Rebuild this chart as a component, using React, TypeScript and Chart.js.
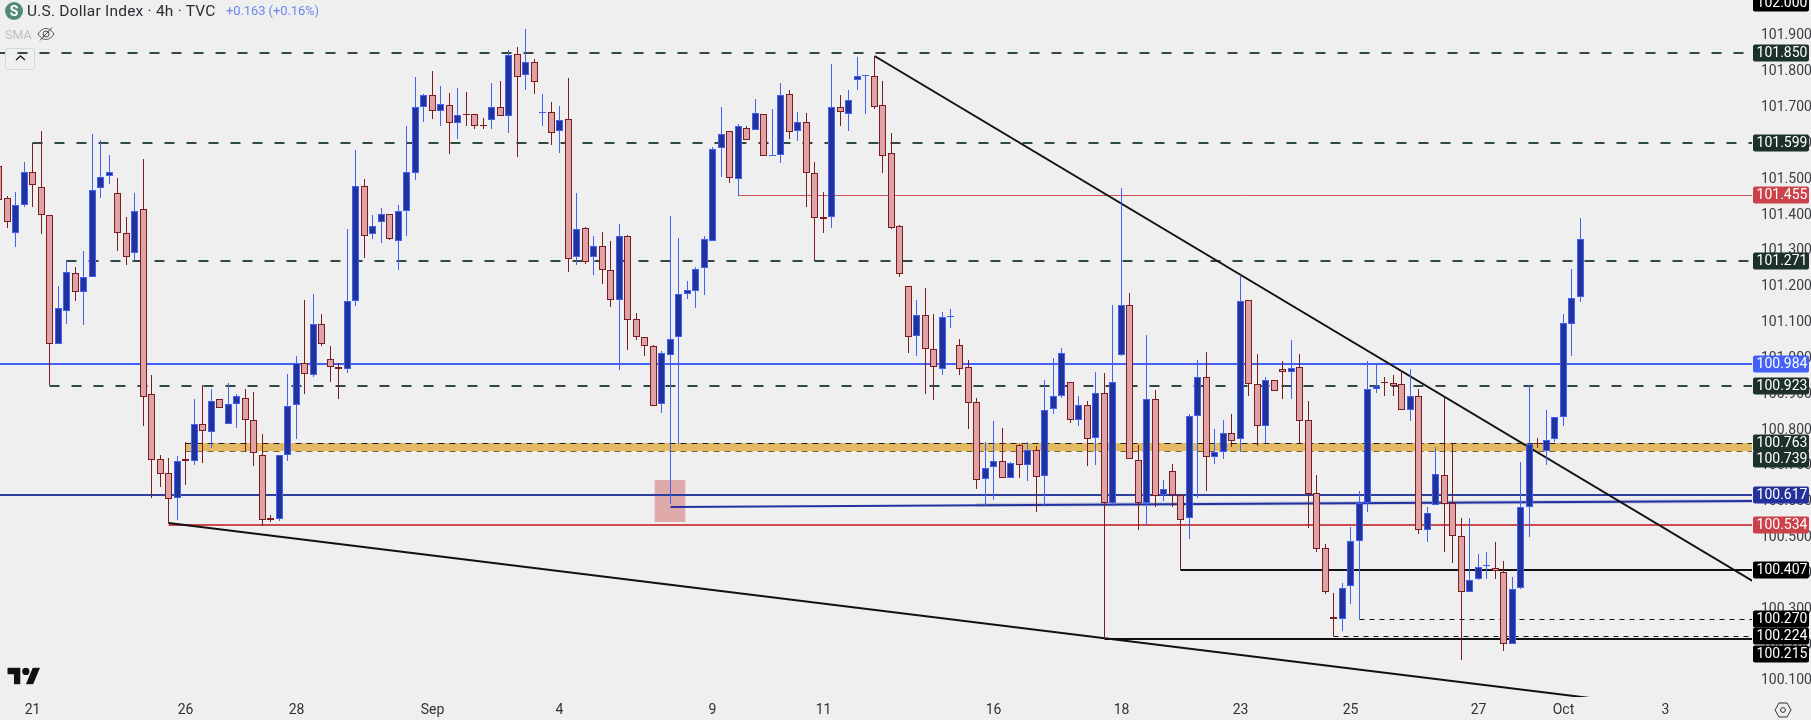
import React, { useEffect, useRef } from "react";
import { Chart, registerables } from "chart.js";

Chart.register(...registerables);

// ---- candle series (4h bars, oldest first) ----
const opens = [
  101.537,101.445,101.350,101.428,101.520,101.478,101.400,101.040,101.132,101.238,
  101.185,101.227,101.473,101.509,101.461,101.350,101.294,101.417,100.898,100.719,
  100.680,100.610,100.719,100.711,100.817,100.794,100.886,100.817,100.872,100.889,
  100.828,100.730,100.554,100.551,100.730,100.870,100.987,100.953,101.096,100.998,
  100.976,100.970,101.160,101.481,101.347,101.380,101.403,101.327,101.411,101.517,
  101.699,101.735,101.690,101.707,101.657,101.682,101.682,101.651,101.665,101.699,
  101.676,101.849,101.791,101.827,101.685,101.687,101.634,101.668,101.283,101.364,
  101.283,101.313,101.246,101.163,101.339,101.110,101.059,101.034,100.872,101.009,
  101.059,101.179,101.188,101.252,101.327,101.587,101.632,101.500,101.643,101.637,
  101.682,101.565,101.567,101.738,101.633,101.658,101.515,101.393,101.393,101.699,
  101.682,101.776,101.786,101.786,101.705,101.571,101.367,101.200,101.061,101.120,
  101.025,100.970,101.114,101.035,100.974,100.876,100.662,100.695,100.711,100.664,
  100.756,100.700,100.743,100.670,100.857,100.893,100.933,100.828,100.869,100.776,
  100.901,100.594,101.009,101.147,100.714,100.594,100.885,100.618,100.684,100.618,
  100.554,100.837,100.946,100.723,100.737,100.790,100.773,101.161,100.927,100.810,
  100.938,100.968,100.960,100.976,100.826,100.622,100.470,100.277,100.270,100.363,
  100.488,100.594,100.913,100.932,100.930,100.927,100.854,100.893,100.519,100.589,
  100.673,100.594,100.502,100.348,100.383,100.419,100.415,100.402,100.203,100.357,
  100.583,100.761,100.740,100.773,100.834,101.094,101.169,
];
const closes = [
  101.442,101.380,101.428,101.520,101.484,101.400,101.040,101.138,101.241,101.185,
  101.227,101.470,101.506,101.520,101.350,101.283,101.411,100.892,100.716,100.677,
  100.605,100.713,100.711,100.817,100.797,100.881,100.861,100.872,100.895,100.828,
  100.736,100.549,100.549,100.730,100.867,100.987,100.956,101.096,101.040,100.976,
  100.970,101.160,101.481,101.341,101.369,101.403,101.333,101.411,101.520,101.699,
  101.735,101.690,101.710,101.657,101.679,101.679,101.646,101.646,101.699,101.676,
  101.846,101.785,101.827,101.771,101.687,101.629,101.665,101.277,101.361,101.269,
  101.313,101.246,101.163,101.339,101.107,101.059,101.032,100.867,101.015,101.054,
  101.179,101.191,101.249,101.333,101.584,101.626,101.503,101.646,101.609,101.685,
  101.565,101.567,101.735,101.631,101.658,101.515,101.390,101.389,101.699,101.686,
  101.719,101.786,101.790,101.699,101.565,101.364,101.233,101.058,101.120,101.025,
  100.974,101.114,101.115,100.968,100.873,100.659,100.693,100.711,100.664,100.707,
  100.701,100.743,100.667,100.854,100.893,101.013,100.826,100.869,100.775,100.901,
  100.594,100.932,101.147,100.717,100.594,100.885,100.615,100.634,100.618,100.549,
  100.837,100.946,100.724,100.738,100.790,100.768,101.158,100.927,100.809,100.938,
  100.907,100.960,100.972,100.824,100.619,100.466,100.348,100.270,100.357,100.488,
  100.594,100.913,100.922,100.931,100.921,100.854,100.893,100.519,100.567,100.675,
  100.592,100.502,100.348,100.379,100.416,100.420,100.405,100.203,100.355,100.583,
  100.760,100.759,100.770,100.835,101.097,101.167,101.331,
];
const highs = [
  101.542,101.453,101.464,101.548,101.601,101.634,101.400,101.202,101.272,101.255,
  101.299,101.626,101.609,101.567,101.503,101.392,101.459,101.556,100.951,100.730,
  100.722,100.727,100.764,100.886,100.925,100.912,100.886,100.931,100.900,100.912,
  100.906,100.789,100.563,100.730,100.956,101.006,101.163,101.179,101.124,101.034,
  100.987,101.361,101.579,101.500,101.400,101.419,101.403,101.428,101.648,101.785,
  101.738,101.802,101.760,101.740,101.752,101.743,101.682,101.671,101.768,101.774,
  101.860,101.869,101.919,101.833,101.738,101.713,101.704,101.780,101.461,101.366,
  101.341,101.352,101.325,101.375,101.344,101.126,101.059,101.037,101.018,101.397,
  101.336,101.216,101.255,101.341,101.590,101.699,101.632,101.654,101.646,101.724,
  101.682,101.696,101.768,101.747,101.686,101.683,101.547,101.463,101.821,101.734,
  101.747,101.841,101.790,101.842,101.772,101.628,101.371,101.200,101.161,101.196,
  101.124,101.128,101.136,101.053,100.995,100.887,100.766,100.824,100.805,100.710,
  100.760,100.766,100.754,100.939,100.999,101.028,100.933,100.893,100.881,100.962,
  100.959,101.147,101.475,101.182,100.756,101.063,100.910,100.659,100.704,100.618,
  100.843,100.994,101.017,100.803,100.827,100.843,101.231,101.161,101.012,100.948,
  100.938,100.991,101.049,101.012,100.881,100.673,100.480,100.343,100.372,100.528,
  100.629,100.991,100.986,100.948,100.953,100.965,100.968,100.914,100.584,100.752,
  100.887,100.763,100.552,100.552,100.453,100.459,100.485,100.432,100.389,100.710,
  100.925,100.777,100.855,100.835,101.124,101.249,101.391,
];
const lows = [
  101.428,101.364,101.311,101.422,101.422,101.347,100.925,101.040,101.096,101.160,
  101.093,101.227,101.447,101.486,101.299,101.260,101.274,100.811,100.610,100.641,
  100.540,100.549,100.646,100.702,100.708,100.750,100.861,100.817,100.805,100.738,
  100.699,100.532,100.543,100.546,100.711,100.775,100.898,100.948,101.032,100.934,
  100.886,100.959,101.146,101.280,101.333,101.322,101.330,101.246,101.339,101.498,
  101.659,101.668,101.648,101.570,101.612,101.648,101.640,101.640,101.640,101.676,
  101.629,101.562,101.749,101.738,101.648,101.593,101.573,101.241,101.260,101.263,
  101.232,101.205,101.143,100.965,101.023,101.051,101.006,100.867,100.845,100.591,
  100.761,101.165,101.140,101.177,101.327,101.506,101.489,101.453,101.609,101.637,
  101.565,101.565,101.545,101.610,101.605,101.422,101.271,101.348,101.364,101.648,
  101.633,101.749,101.680,101.694,101.515,101.359,101.227,101.014,101.006,100.898,
  100.884,100.953,101.084,100.953,100.803,100.633,100.586,100.604,100.664,100.664,
  100.664,100.656,100.569,100.586,100.844,100.887,100.818,100.809,100.699,100.702,
  100.216,100.586,101.006,100.717,100.519,100.534,100.583,100.601,100.583,100.409,
  100.494,100.610,100.630,100.703,100.717,100.751,100.737,100.893,100.754,100.763,
  100.907,100.886,100.885,100.762,100.526,100.459,100.342,100.223,100.239,100.312,
  100.270,100.569,100.901,100.895,100.895,100.854,100.824,100.508,100.486,100.589,
  100.459,100.428,100.158,100.348,100.379,100.382,100.384,100.181,100.201,100.355,
  100.500,100.748,100.700,100.766,100.810,101.006,101.157,
];

// ---- axes ----
const X_MIN = 0.118;
const X_MAX = 206.235;
const Y_MAX = 101.999;
const Y_MIN = 100.0537;
const priceTicks = [101.9,101.8,101.7,101.6,101.5,101.4,101.3,101.2,101.1,101.0,100.9,100.8,100.7,100.6,100.5,100.4,100.3,100.2,100.1];
const timeTickBars = [4,22,35,51,66,84,97,117,132,146,159,174,184,196];
const timeTickLabels = ["21","26","28","Sep","4","9","11","16","18","23","25","27","Oct","3"];

// ---- horizontal levels: [first bar, price] ----
const level101850 = [-0.47, 101.85];
const level101599 = [4, 101.599];
const level101271 = [8, 101.271];
const level100923 = [6, 100.923];
const level100984 = [-0.47, 100.984];
const level100617 = [-0.47, 100.617];
const level100534 = [20, 100.534];
const level101455 = [87, 101.455];
const level100407 = [139, 100.407];
const level100215 = [130, 100.215];
const level100270 = [160, 100.27];
const level100224 = [157, 100.224];
const level100763 = [22, 100.763];
const level100739 = [22, 100.739];

// ---- sloped lines: [bar, price, bar, price] ----
const upperTrend = [103, 101.842, 206.235, 100.378];
const lowerTrend = [20, 100.54, 206.235, 99.996];
const blueTrend = [79, 100.585, 206.235, 100.6];
const blueHalo = [115, 100.589, 206.235, 100.6];
// highlighted box: [first bar, last bar, top price, bottom price]
const pinkBox = [77.06, 80.82, 100.66, 100.543];

// ---- price tags on the axis ----
const tagValues = [102.0,101.85,101.599,101.455,101.271,100.984,100.923,100.763,100.739,100.617,100.534,100.407,100.27,100.224,100.215];
const tagColors = ["#000000","#1c312a","#1c312a","#cc4249","#1c312a","#4361f6","#1c312a","#1c312a","#1c312a","#24319a","#cc4249","#000000","#000000","#000000","#000000"];
const tagShifts = [3,0,0,0,0,0,0,0,8,0,0,0,0,0,15];

const FONT = '"Liberation Sans Narrow", Roboto, sans-serif';
const UP_BODY = "#21329b";
const UP_LINE = "#4262f5";
const DOWN_BODY = "#e0a3a5";
const DOWN_LINE = "#7a1c22";
const GREEN = "#2f4a40";

function hline(l: number[], color: string, width: number, dash: number[] = [], thin = false) {
  return {
    type: "line" as const,
    data: [{ x: l[0], y: l[1] }, { x: X_MAX, y: l[1] }],
    borderColor: color,
    borderWidth: width,
    borderDash: dash,
    pointRadius: 0,
    tension: 0,
    order: 5,
    thin,
  };
}
function sloped(l: number[], color: string, width = 2, order = 4) {
  return {
    type: "line" as const,
    data: [{ x: l[0], y: l[1] }, { x: l[2], y: l[3] }],
    borderColor: color,
    borderWidth: width,
    pointRadius: 0,
    tension: 0,
    order,
  };
}

const thinOffset = {
  id: "thinOffset",
  beforeDatasetDraw(chart: any, args: any) {
    if (chart.data.datasets[args.index].thin) {
      chart.ctx.save();
      chart.ctx.translate(0, 0.5);
    }
  },
  afterDatasetDraw(chart: any, args: any) {
    if (chart.data.datasets[args.index].thin) chart.ctx.restore();
  },
};

const priceTags = {
  id: "priceTags",
  afterDraw(chart: any) {
    const { ctx, scales } = chart;
    ctx.save();
    ctx.font = "14px " + FONT;
    ctx.textBaseline = "middle";
    ctx.textAlign = "center";
    tagValues.forEach((v, i) => {
      const y = scales.y.getPixelForValue(v) + tagShifts[i];
      ctx.fillStyle = tagColors[i];
      ctx.beginPath();
      ctx.roundRect(1753, y - 8.5, 56, 17, 2);
      ctx.fill();
      ctx.fillStyle = "#ffffff";
      ctx.fillText(v.toFixed(3), 1782, y + 0.5);
    });
    ctx.restore();
  },
};

export default function App() {
  const ref = useRef<HTMLCanvasElement>(null);
  useEffect(() => {
    const bars = opens.map((_, i) => i);
    const up = (i: number) => closes[i] >= opens[i];
    const chart = new Chart(ref.current as HTMLCanvasElement, {
      type: "bar",
      data: {
        datasets: [
          {
            data: bars.map((i) => ({ x: i, y: [opens[i], closes[i]] })),
            backgroundColor: bars.map((i) => (up(i) ? UP_BODY : DOWN_BODY)),
            borderColor: bars.map((i) => (up(i) ? UP_LINE : DOWN_LINE)),
            borderWidth: 1,
            borderSkipped: false,
            barThickness: 7,
            minBarLength: 1,
            inflateAmount: 0,
            grouped: false,
            order: 1,
          },
          {
            data: bars.map((i) => ({ x: i, y: [lows[i], highs[i]] })),
            backgroundColor: bars.map((i) => (up(i) ? UP_LINE : DOWN_LINE)),
            borderWidth: 0,
            barThickness: 1,
            inflateAmount: 0,
            grouped: false,
            order: 2,
          },
          sloped(upperTrend, "#111111"),
          sloped(lowerTrend, "#111111"),
          sloped(blueTrend, "#2330a0"),
          sloped(blueHalo, "#cdd0df", 4, 5),
          hline(level101850, GREEN, 2, [10, 12]),
          hline(level101599, GREEN, 2, [10, 12]),
          hline(level101271, GREEN, 2, [10, 12]),
          hline(level100923, GREEN, 2, [10, 12]),
          hline(level100984, UP_LINE, 2),
          hline(level100617, "#2f3f9e", 2),
          hline(level100534, "#cc4a50", 2),
          hline(level101455, "#c9545a", 1, [], true),
          hline(level100407, "#111111", 2),
          hline(level100215, "#111111", 2),
          hline(level100270, "#111111", 1, [5, 5], true),
          hline(level100224, "#111111", 1, [5, 5], true),
          hline(level100763, "#222222", 1, [6, 5], true),
          hline(level100739, "#7d6328", 1, [6, 5], true),
          {
            type: "line",
            data: [{ x: level100763[0], y: level100763[1] }, { x: X_MAX, y: level100763[1] }],
            borderWidth: 0,
            pointRadius: 0,
            backgroundColor: "#e3b964",
            fill: { target: { value: level100739[1] } },
            order: 6,
          },
          {
            type: "line",
            data: [{ x: pinkBox[0], y: pinkBox[2] }, { x: pinkBox[1], y: pinkBox[2] }],
            borderWidth: 0,
            pointRadius: 0,
            backgroundColor: "#e0a9aa",
            fill: { target: { value: pinkBox[3] } },
            order: 6,
          },
        ] as any,
      },
      plugins: [thinOffset, priceTags],
      options: {
        animation: false,
        responsive: false,
        devicePixelRatio: 1,
        layout: { padding: 0 },
        plugins: { legend: { display: false }, title: { display: false }, tooltip: { enabled: false } },
        scales: {
          x: {
            type: "linear",
            offset: false,
            min: X_MIN,
            max: X_MAX,
            grid: { display: false, drawTicks: false },
            border: { display: false },
            afterBuildTicks(s: any) {
              s.ticks = timeTickBars.map((v) => ({ value: v }));
            },
            afterFit(s: any) {
              s.height = 23;
              s.paddingLeft = s.paddingRight = s.paddingTop = s.paddingBottom = 0;
              if (!s.__snap) {
                s.__snap = true;
                const f = s.getPixelForValue;
                s.getPixelForValue = function (v: number, i: number) {
                  return Math.floor(f.call(this, v, i)) + 0.5;
                };
              }
            },
            ticks: {
              autoSkip: false,
              maxRotation: 0,
              padding: 5,
              color: "#2f3134",
              font: { family: FONT, size: 14 },
              callback: (_v: any, i: number) => timeTickLabels[i],
            },
          },
          y: {
            type: "linear",
            position: "right",
            min: Y_MIN,
            max: Y_MAX,
            grid: { display: false, drawTicks: false },
            border: { display: false },
            afterBuildTicks(s: any) {
              s.ticks = priceTicks.map((v) => ({ value: v }));
            },
            afterFit(s: any) {
              s.width = 59;
              s.paddingLeft = s.paddingRight = s.paddingTop = s.paddingBottom = 0;
              if (!s.__snap) {
                s.__snap = true;
                const f = s.getPixelForValue;
                s.getPixelForValue = function (v: number, i: number) {
                  return Math.round(f.call(this, v, i));
                };
              }
            },
            ticks: {
              autoSkip: false,
              padding: 9,
              color: "#3a3d41",
              font: { family: FONT, size: 14 },
              callback: (v: any) => Number(v).toFixed(3),
            },
          },
        },
      } as any,
    });
    return () => chart.destroy();
  }, []);

  return (
    <div style={{ position: "absolute", left: 0, top: 0, width: 1811, height: 720, overflow: "hidden", background: "#efefef" }}>
      <canvas ref={ref} width={1811} height={720} style={{ display: "block", width: 1811, height: 720 }} />
      {/* symbol header */}
      <svg width="20" height="20" style={{ position: "absolute", left: 4, top: 1 }}>
        <circle cx="10" cy="10" r="9" fill="#4f8a76" />
        <text x="10" y="15" textAnchor="middle" fill="#ffffff" fontFamily="Roboto, sans-serif" fontWeight="700" fontSize="14">S</text>
      </svg>
      <div style={{ position: "absolute", left: 27, top: 1, font: "15.5px/20px Roboto, sans-serif", letterSpacing: "0.22px", color: "#2a2e33", whiteSpace: "pre" }}>U.S. Dollar Index · 4h · TVC</div>
      <div style={{ position: "absolute", left: 226, top: 1, font: "13px/20px Roboto, sans-serif", letterSpacing: "-0.1px", color: "#6d87ec", whiteSpace: "pre" }}>+0.163 (+0.16%)</div>
      <div style={{ position: "absolute", left: 5, top: 26, font: "12.5px/18px Roboto, sans-serif", color: "#bcc0c5" }}>SMA</div>
      <svg width="18" height="14" viewBox="0 0 18 14" style={{ position: "absolute", left: 37, top: 27 }} fill="none" stroke="#4a4d52" strokeWidth="1">
        <path d="M1 7 C4 2.5 7 1.5 9 1.5 C11 1.5 14 2.5 17 7 C14 11.5 11 12.5 9 12.5 C7 12.5 4 11.5 1 7 Z" />
        <circle cx="9" cy="7" r="3" />
        <path d="M15 0.5 L3 13.5" />
      </svg>
      {/* collapse button */}
      <div style={{ position: "absolute", left: 5, top: 48, width: 28, height: 20, border: "1px solid #d5d8dd", borderRadius: 3, boxSizing: "content-box" }}>
        <svg width="28" height="20" style={{ display: "block" }} fill="none" stroke="#222" strokeWidth="1.4">
          <path d="M10 11 L14.5 7 L19 11" />
        </svg>
      </div>
      {/* TradingView mark */}
      <svg width="36" height="22" viewBox="-1 1 38 24" style={{ position: "absolute", left: 6, top: 665 }}>
        <g fill="#111" stroke="#fff" strokeWidth="1.5" paintOrder="stroke">
          <path d="M14 22H7V11H0V4h14v18z" />
          <path d="M28 22h-8l7.5-18h8L28 22z" />
          <circle cx="20" cy="8" r="4" />
        </g>
      </svg>
      {/* settings mark */}
      <svg width="18" height="18" viewBox="0 0 18 18" style={{ position: "absolute", left: 1774, top: 701 }} fill="none" stroke="#333" strokeWidth="1">
        <path d="M5 2 H13 L17 9 L13 16 H5 L1 9 Z" />
        <circle cx="9" cy="9" r="2.4" />
      </svg>
    </div>
  );
}
